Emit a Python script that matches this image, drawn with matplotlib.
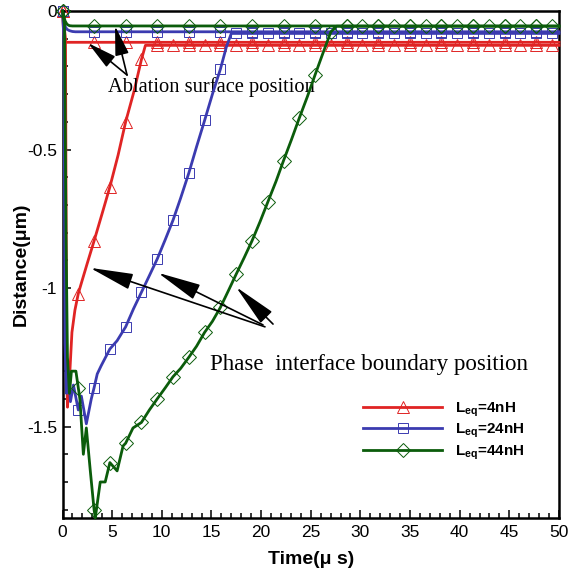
import numpy as np
import matplotlib
matplotlib.use('Agg')
import matplotlib.pyplot as plt
from matplotlib.lines import Line2D
from matplotlib.patches import FancyArrowPatch

plt.rcParams['font.family'] = ['Liberation Sans', 'DejaVu Sans']
plt.rcParams['mathtext.fontset'] = 'custom'
plt.rcParams['mathtext.rm'] = 'Liberation Sans'
plt.rcParams['mathtext.bf'] = 'Liberation Sans:bold'
plt.rcParams['mathtext.it'] = 'Liberation Sans:italic'

# ---------------- data ----------------
labels = [r'L$_{\mathbf{eq}}$=4nH', r'L$_{\mathbf{eq}}$=24nH', r'L$_{\mathbf{eq}}$=44nH']
colors = ['#e02424', '#3b3bb0', '#0b5c0b']
markers = ['^', 's', 'D']
msizes = [8.5, 7.5, 7.5]

x_ticks = [0, 5, 10, 15, 20, 25, 30, 35, 40, 45, 50]
y_ticks = [0, -0.5, -1, -1.5]
y_ticklabels = ['0', '-0.5', '-1', '-1.5']

# ablation surface position (time in us, distance in um)
abl_t = [0, 0.1, 0.25, 0.45, 0.7, 1.0, 1.3, 3.18, 6.36, 9.54, 12.72, 15.9, 19.08,
         22.26, 25.44, 28.62, 31.8, 34.98, 38.16, 41.34, 44.52, 47.7, 50]
abl_red = [0, -0.07, -0.108, -0.113, -0.113, -0.113, -0.113, -0.113, -0.113, -0.113,
           -0.113, -0.113, -0.113, -0.113, -0.113, -0.113, -0.113, -0.113, -0.113,
           -0.113, -0.113, -0.113, -0.113]
abl_blue = [0, -0.03, -0.055, -0.066, -0.071, -0.074, -0.075, -0.075, -0.075, -0.075,
            -0.075, -0.075, -0.075, -0.075, -0.075, -0.075, -0.075, -0.075, -0.075,
            -0.075, -0.075, -0.075, -0.075]
abl_green = [0, -0.012, -0.035, -0.048, -0.053, -0.054, -0.054, -0.054, -0.054, -0.054,
             -0.054, -0.054, -0.054, -0.054, -0.054, -0.054, -0.054, -0.054, -0.054,
             -0.054, -0.054, -0.054, -0.054]

# phase interface boundary position
red_t = [0, 0.3, 0.42, 0.5, 0.7, 0.95, 1.25, 1.59, 2.0, 2.5, 3.18, 4.0, 4.77, 5.6,
         6.36, 7.2, 7.95, 8.35, 9.54, 11.13, 12.72, 14.31, 15.9, 17.49, 19.08, 20.67,
         22.26, 23.85, 25.44, 27.03, 28.62, 30.21, 31.8, 33.39, 34.98, 36.57, 38.16,
         39.75, 41.34, 42.93, 44.52, 46.11, 47.7, 49.29, 50]
red_d = [0, -0.1, -1.3, -1.43, -1.33, -1.16, -1.08, -1.02, -0.97, -0.91, -0.83, -0.73,
         -0.635, -0.52, -0.40, -0.29, -0.175, -0.124, -0.124, -0.124, -0.124, -0.124,
         -0.124, -0.124, -0.124, -0.124, -0.124, -0.124, -0.124, -0.124, -0.124, -0.124,
         -0.124, -0.124, -0.124, -0.124, -0.124, -0.124, -0.124, -0.124, -0.124, -0.124,
         -0.124, -0.124, -0.124]

blue_t = [0, 0.15, 0.25, 0.4, 0.6, 0.8, 1.1, 1.59, 1.9, 2.4, 2.9, 3.18, 3.5, 3.9, 4.77,
          5.5, 6.36, 7.15, 7.95, 8.75, 9.54, 10.35, 11.13, 11.9, 12.72, 13.5, 14.31,
          15.1, 15.9, 16.5, 17.0, 17.49, 19.08, 20.67, 22.26, 23.85, 25.44, 27.03, 28.62,
          30.21, 31.8, 33.39, 34.98, 36.57, 38.16, 39.75, 41.34, 42.93, 44.52, 46.11,
          47.7, 49.29, 50]
blue_d = [0, -0.1, -1.2, -1.38, -1.30, -1.41, -1.35, -1.44, -1.39, -1.49, -1.40, -1.36,
          -1.31, -1.28, -1.22, -1.19, -1.14, -1.075, -1.015, -0.955, -0.895, -0.825,
          -0.755, -0.675, -0.585, -0.49, -0.395, -0.30, -0.21, -0.13, -0.081, -0.081,
          -0.081, -0.081, -0.081, -0.081, -0.081, -0.081, -0.081, -0.081, -0.081, -0.081,
          -0.081, -0.081, -0.081, -0.081, -0.081, -0.081, -0.081, -0.081, -0.081, -0.081,
          -0.081]

green_t = [0, 0.2, 0.35, 0.5, 0.7, 0.9, 1.35, 1.59, 1.75, 2.1, 2.4, 2.8, 3.18, 3.3, 3.8,
           4.3, 4.77, 5.5, 6.1, 6.36, 7.1, 7.95, 8.75, 9.54, 10.35, 11.13, 11.9, 12.72,
           13.5, 14.31, 15.1, 15.9, 16.7, 17.49, 18.3, 19.08, 19.9, 20.67, 21.5, 22.26,
           23.05, 23.85, 24.65, 25.44, 26.25, 27.03, 27.6, 28.62, 30.21, 31.8, 33.39,
           34.98, 36.57, 38.16, 39.75, 41.34, 42.93, 44.52, 46.11, 47.7, 49.29, 50]
green_d = [0, -0.05, -0.8, -1.25, -1.38, -1.30, -1.30, -1.36, -1.40, -1.60, -1.505,
           -1.66, -1.80, -1.83, -1.70, -1.70, -1.63, -1.66, -1.57, -1.56, -1.505, -1.485,
           -1.44, -1.40, -1.36, -1.32, -1.29, -1.25, -1.21, -1.16, -1.12, -1.07, -1.01,
           -0.95, -0.89, -0.83, -0.76, -0.69, -0.615, -0.54, -0.465, -0.386, -0.31, -0.23,
           -0.15, -0.075, -0.055, -0.055, -0.055, -0.055, -0.055, -0.055, -0.055, -0.055,
           -0.055, -0.055, -0.055, -0.055, -0.055, -0.055, -0.055, -0.055]

# marker times (every n-th output point of the solver)
iface_mark_t = [0, 1.59, 3.18, 4.77, 6.36, 7.95, 9.54, 11.13, 12.72, 14.31, 15.9, 17.49,
                19.08, 20.67, 22.26, 23.85, 25.44, 27.03, 28.62, 30.21, 31.8, 33.39,
                34.98, 36.57, 38.16, 39.75, 41.34, 42.93, 44.52, 46.11, 47.7, 49.29]
abl_mark_t = [0, 3.18, 6.36, 9.54, 12.72, 15.9, 19.08, 22.26, 25.44, 28.62, 31.8, 34.98,
              38.16, 41.34, 44.52, 47.7]


def mark_idx(ts, marks):
    return [i for i, t in enumerate(ts) if any(abs(t - m) < 1e-6 for m in marks)]


# ---------------- figure ----------------
W, H = 572, 569
fig = plt.figure(figsize=(W / 100, H / 100), dpi=100)
L, R, T, B = 62.5, 559, 11, 518
ax = fig.add_axes([L / W, 1 - B / H, (R - L) / W, (B - T) / H])

iface = [(red_t, red_d), (blue_t, blue_d), (green_t, green_d)]
abls = [abl_red, abl_blue, abl_green]

for k in range(3):
    c = colors[k]
    ax.plot(abl_t, abls[k], color=c, lw=2.0, marker=markers[k], ms=msizes[k],
            mfc='none', mec=c, mew=0.7, markevery=mark_idx(abl_t, abl_mark_t),
            clip_on=False, zorder=3 + k)
    t, d = iface[k]
    ax.plot(t, d, color=c, lw=2.0, marker=markers[k], ms=msizes[k],
            mfc='none', mec=c, mew=0.7, markevery=mark_idx(t, iface_mark_t),
            clip_on=False, zorder=3 + k)

ax.set_xlim(0, 50)
ax.set_ylim(-1.83, 0)
ax.set_xticks(x_ticks)
ax.set_xticklabels([str(v) for v in x_ticks])
ax.set_xticks(np.arange(0, 51, 1), minor=True)
ax.set_yticks(y_ticks)
ax.set_yticklabels(y_ticklabels)
ax.set_yticks(np.arange(-1.8, 0.01, 0.1), minor=True)
ax.tick_params(which='both', direction='in', top=False, right=False, labelsize=12.5,
               width=1.1)
ax.tick_params(which='major', length=6)
ax.tick_params(which='minor', length=3.5)
ax.tick_params(axis='x', pad=5)
ax.tick_params(axis='y', pad=4)
for s in ax.spines.values():
    s.set_linewidth(1.8)

ax.set_xlabel('Time(μ s)', fontsize=14, fontweight='bold', labelpad=8)
ax.set_ylabel('Distance(μm)', fontsize=14, fontweight='bold', labelpad=-2)

# annotations
serif = ['Liberation Serif', 'DejaVu Serif']
ax.text(4.58, -0.293, 'Ablation surface position', family=serif, fontsize=14.8,
        va='baseline', ha='left')
ax.text(14.85, -1.296, 'Phase  interface boundary position', family=serif, fontsize=16.6,
        va='baseline', ha='left')


def arrow(tail, tip, hl, hw):
    p = FancyArrowPatch(tail, tip, arrowstyle=f'-|>,head_length={hl},head_width={hw}',
                        mutation_scale=10, color='black', lw=1.2, shrinkA=0, shrinkB=0,
                        zorder=10)
    ax.add_patch(p)


arrow((6.5, -0.231), (2.57, -0.1155), 1.8, 0.42)
arrow((6.5, -0.231), (5.29, -0.054), 1.8, 0.42)
arrow((20.39, -1.140), (2.77, -0.927), 2.7, 0.5)
arrow((20.19, -1.133), (9.62, -0.945), 2.7, 0.5)
arrow((21.2, -1.13), (17.47, -0.996), 2.7, 0.5)

# legend
handles = [Line2D([], [], color=colors[k], lw=2.0, marker=markers[k], ms=msizes[k],
                  mfc='none', mec=colors[k], mew=0.7) for k in range(3)]
leg = ax.legend(handles, labels, loc='center left', bbox_to_anchor=(0.605, 0.1716),
                frameon=False, borderpad=0, borderaxespad=0, handlelength=5.2,
                handletextpad=0.85, labelspacing=0.2, numpoints=1,
                prop={'size': 11, 'weight': 'bold'})

fig.savefig('out.png', dpi=100)
